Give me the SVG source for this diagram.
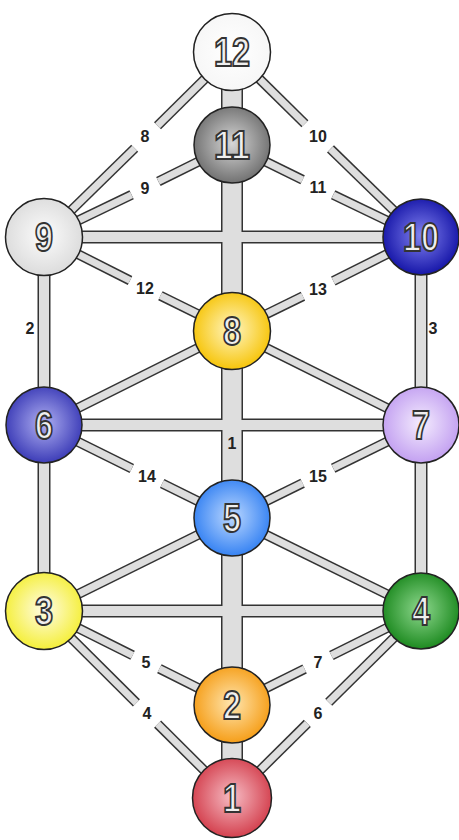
<svg xmlns="http://www.w3.org/2000/svg" width="459" height="840" viewBox="0 0 459 840">
<style>
.node circle{stroke:#222;stroke-width:1.5}
.node text{font-family:"Liberation Sans",Arial,sans-serif;font-weight:bold;font-size:40px;fill:#efefef;stroke:#333;stroke-width:2;text-anchor:middle}
.lbl{font-family:"Liberation Sans",Arial,sans-serif;font-weight:bold;font-size:16px;fill:#222;text-anchor:middle}
.out{stroke:#333;stroke-linecap:butt}
.inn{stroke:#dedede;stroke-linecap:butt}
</style>
<defs>
<radialGradient id="g1" cx="50%" cy="48%" r="55%"><stop offset="0" stop-color="#f6bcc4"/><stop offset="1" stop-color="#d23a48"/></radialGradient>
<radialGradient id="g2" cx="50%" cy="48%" r="55%"><stop offset="0" stop-color="#ffe6b0"/><stop offset="1" stop-color="#f59a10"/></radialGradient>
<radialGradient id="g3" cx="50%" cy="48%" r="55%"><stop offset="0" stop-color="#fffce6"/><stop offset="1" stop-color="#f4ee30"/></radialGradient>
<radialGradient id="g4" cx="50%" cy="48%" r="55%"><stop offset="0" stop-color="#8ed88e"/><stop offset="1" stop-color="#17861a"/></radialGradient>
<radialGradient id="g5" cx="50%" cy="48%" r="55%"><stop offset="0" stop-color="#bcd8ff"/><stop offset="1" stop-color="#2f7ef2"/></radialGradient>
<radialGradient id="g6" cx="50%" cy="48%" r="55%"><stop offset="0" stop-color="#b0b0f2"/><stop offset="1" stop-color="#3636b4"/></radialGradient>
<radialGradient id="g7" cx="50%" cy="48%" r="55%"><stop offset="0" stop-color="#f4ecfe"/><stop offset="1" stop-color="#c09cf0"/></radialGradient>
<radialGradient id="g8" cx="50%" cy="48%" r="55%"><stop offset="0" stop-color="#fff6c4"/><stop offset="1" stop-color="#f6c200"/></radialGradient>
<radialGradient id="g9" cx="50%" cy="48%" r="55%"><stop offset="0" stop-color="#fcfcfc"/><stop offset="1" stop-color="#dadada"/></radialGradient>
<radialGradient id="g10" cx="50%" cy="48%" r="55%"><stop offset="0" stop-color="#8282f0"/><stop offset="1" stop-color="#1010a4"/></radialGradient>
<radialGradient id="g11" cx="50%" cy="48%" r="55%"><stop offset="0" stop-color="#d6d6d6"/><stop offset="1" stop-color="#6c6c6c"/></radialGradient>
<radialGradient id="g12" cx="50%" cy="48%" r="55%"><stop offset="0" stop-color="#ffffff"/><stop offset="1" stop-color="#f6f6f6"/></radialGradient>
<g id="Lp">
<line x1="232" y1="52" x2="232" y2="798"/>
</g>
<g id="Lm">
<line x1="44" y1="237" x2="421" y2="237"/>
<line x1="44" y1="425" x2="421" y2="425"/>
<line x1="44" y1="611" x2="421" y2="611"/>
<line x1="44" y1="237" x2="44" y2="611"/>
<line x1="421" y1="237" x2="421" y2="611"/>
</g>
<g id="Ld">
<line x1="232" y1="52" x2="157.5" y2="125.8"/><line x1="134.7" y1="148.3" x2="44" y2="237"/>
<line x1="232" y1="52" x2="304.9" y2="123.7"/><line x1="330.5" y1="148.9" x2="421" y2="237"/>
<line x1="232" y1="145" x2="158.4" y2="181.4"/><line x1="131.6" y1="194.8" x2="44" y2="237"/>
<line x1="232" y1="145" x2="302.6" y2="179.8"/><line x1="333.2" y1="194.8" x2="421" y2="237"/>
<line x1="44" y1="237" x2="130" y2="280.5"/><line x1="160.4" y1="295.7" x2="232" y2="331"/>
<line x1="421" y1="237" x2="333.3" y2="281"/><line x1="302.9" y1="296.2" x2="232" y2="331"/>
<line x1="232" y1="331" x2="44" y2="425"/>
<line x1="232" y1="331" x2="421" y2="425"/>
<line x1="44" y1="425" x2="131.8" y2="468.5"/><line x1="162.2" y1="483.5" x2="232" y2="518"/>
<line x1="421" y1="425" x2="333.2" y2="468.2"/><line x1="302.6" y1="483.2" x2="232" y2="518"/>
<line x1="232" y1="518" x2="44" y2="611"/>
<line x1="232" y1="518" x2="421" y2="611"/>
<line x1="44" y1="611" x2="132.6" y2="655.3"/><line x1="159.4" y1="668.7" x2="232" y2="705"/>
<line x1="421" y1="611" x2="331.4" y2="655.5"/><line x1="304.6" y1="668.9" x2="232" y2="705"/>
<line x1="44" y1="611" x2="136.4" y2="702.9"/><line x1="157.6" y1="724.1" x2="232" y2="798"/>
<line x1="421" y1="611" x2="328.7" y2="702.3"/><line x1="307.3" y1="723.4" x2="232" y2="798"/>
</g>
</defs>
<rect width="459" height="840" fill="#fff"/>
<g id="connectors">
<use href="#Lp" class="out" stroke-width="22"/>
<use href="#Lm" class="out" stroke-width="13"/>
<use href="#Ld" class="out" stroke-width="10"/>
<use href="#Lp" class="inn" stroke-width="19"/>
<use href="#Lm" class="inn" stroke-width="10"/>
<use href="#Ld" class="inn" stroke-width="7"/>
<g id="connector-labels">
<text class="lbl" x="145" y="142">8</text>
<text class="lbl" x="318" y="142">10</text>
<text class="lbl" x="145" y="194">9</text>
<text class="lbl" x="318" y="193">11</text>
<text class="lbl" x="145" y="294">12</text>
<text class="lbl" x="318" y="295">13</text>
<text class="lbl" x="30" y="334">2</text>
<text class="lbl" x="433" y="334">3</text>
<text class="lbl" x="232" y="449">1</text>
<text class="lbl" x="147" y="482">14</text>
<text class="lbl" x="318" y="482">15</text>
<text class="lbl" x="146" y="668">5</text>
<text class="lbl" x="318" y="668">7</text>
<text class="lbl" x="147" y="719">4</text>
<text class="lbl" x="318" y="719">6</text>
</g>
</g>
<g id="node-12" class="node"><circle cx="232" cy="52" r="38.5" fill="url(#g12)"/><text x="232" y="66" textLength="36" lengthAdjust="spacingAndGlyphs">12</text></g>
<g id="node-11" class="node"><circle cx="232" cy="145" r="38" fill="url(#g11)"/><text x="232" y="159" textLength="36" lengthAdjust="spacingAndGlyphs">11</text></g>
<g id="node-9" class="node"><circle cx="44" cy="237" r="38.5" fill="url(#g9)"/><text x="44" y="251" textLength="18" lengthAdjust="spacingAndGlyphs">9</text></g>
<g id="node-10" class="node"><circle cx="421" cy="237" r="38" fill="url(#g10)"/><text x="421" y="251" textLength="36" lengthAdjust="spacingAndGlyphs">10</text></g>
<g id="node-8" class="node"><circle cx="232" cy="331" r="38.5" fill="url(#g8)"/><text x="232" y="345" textLength="18" lengthAdjust="spacingAndGlyphs">8</text></g>
<g id="node-6" class="node"><circle cx="44" cy="425" r="38" fill="url(#g6)"/><text x="44" y="439" textLength="18" lengthAdjust="spacingAndGlyphs">6</text></g>
<g id="node-7" class="node"><circle cx="421" cy="425" r="38" fill="url(#g7)"/><text x="421" y="439" textLength="18" lengthAdjust="spacingAndGlyphs">7</text></g>
<g id="node-5" class="node"><circle cx="232" cy="518" r="38" fill="url(#g5)"/><text x="232" y="532" textLength="18" lengthAdjust="spacingAndGlyphs">5</text></g>
<g id="node-3" class="node"><circle cx="44" cy="611" r="38.5" fill="url(#g3)"/><text x="44" y="625" textLength="18" lengthAdjust="spacingAndGlyphs">3</text></g>
<g id="node-4" class="node"><circle cx="421" cy="611" r="38" fill="url(#g4)"/><text x="421" y="625" textLength="18" lengthAdjust="spacingAndGlyphs">4</text></g>
<g id="node-2" class="node"><circle cx="232" cy="705" r="38" fill="url(#g2)"/><text x="232" y="719" textLength="18" lengthAdjust="spacingAndGlyphs">2</text></g>
<g id="node-1" class="node"><circle cx="232" cy="798" r="39.5" fill="url(#g1)"/><text x="232" y="812" textLength="18" lengthAdjust="spacingAndGlyphs">1</text></g>
</svg>
